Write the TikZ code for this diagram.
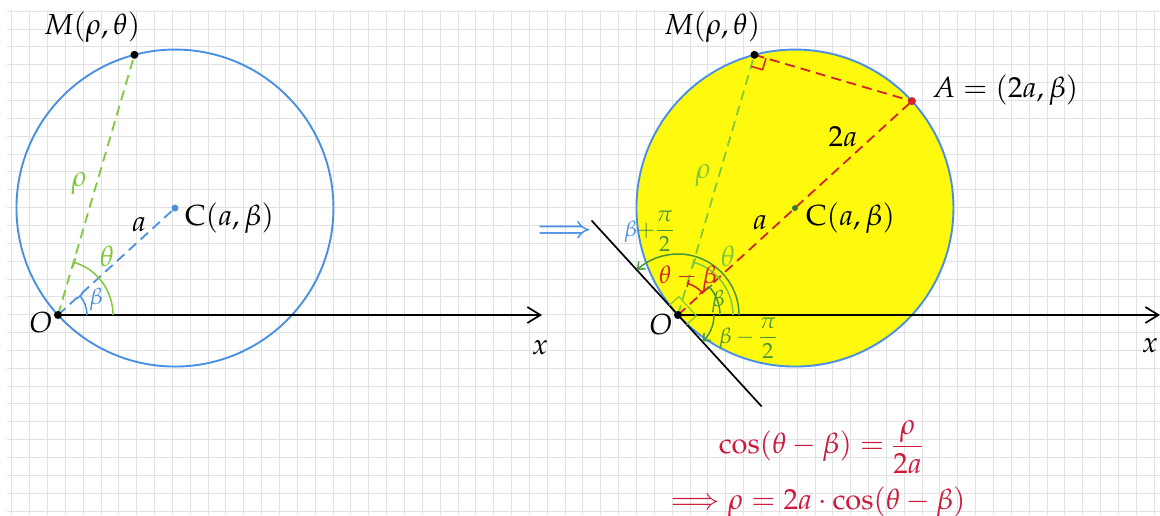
\documentclass[tikz,border=0pt]{standalone}
\usepackage{mathpazo}
\usetikzlibrary{arrows.meta,calc}
\definecolor{cblue}{RGB}{74,144,226}
\definecolor{clgreen}{RGB}{128,200,60}
\definecolor{cdgreen}{RGB}{70,150,55}
\definecolor{cred}{RGB}{210,35,45}
\definecolor{cform}{RGB}{205,25,60}
\definecolor{cgrid}{RGB}{226,226,226}
\definecolor{cyel}{RGB}{255,250,0}
\definecolor{cdot}{RGB}{60,120,60}
\tikzset{
  lbl/.style={font=\fontsize{29}{34}\selectfont, inner sep=0pt},
  slbl/.style={font=\fontsize{23}{28}\selectfont, inner sep=0pt},
  gridline/.style={draw=cgrid, line width=0.9pt},
  circ/.style={draw=cblue, line width=1.9pt},
  dashln/.style={dash pattern=on 10pt off 6pt, line width=1.8pt},
  axisln/.style={line width=1.9pt, -{Straight Barb[length=13pt,width=16pt,line width=1.7pt]}},
  dot/.style={circle, inner sep=0pt, minimum size=8pt, fill=black},
  arcln/.style={line width=1.5pt},
  rmark/.style={line width=1.2pt},
}
\begin{document}
\begin{tikzpicture}[x=1pt,y=1pt]
\useasboundingbox (0,0) rectangle (1160,-515);
% grid
\begin{scope}
\clip (7,-10) rectangle (1160,-515);
\foreach \i in {0,...,65} \draw[gridline] ({11.7+17.85*\i},-10) -- ({11.7+17.85*\i},-515);
\foreach \j in {0,...,28} \draw[gridline] (7,{-11.2-17.85*\j}) -- (1160,{-11.2-17.85*\j});
\end{scope}

% ---------------- left diagram ----------------
\coordinate (O1) at (58,-315);
\coordinate (C1) at ($(O1)+(42.44:158.5)$);
\coordinate (M1) at ($(O1)+(73.62:271.2)$);
\coordinate (X1) at (542,-315);
\draw[circ] (C1) circle[radius=158.5];
\draw[axisln] (O1) -- (X1);
\draw[dashln, draw=clgreen] (O1) -- (M1);
\draw[dashln, draw=cblue] (O1) -- (C1);
\draw[arcln, clgreen, -{Bar[width=9pt]}] ($(O1)+(55,0)$) arc[start angle=0, end angle=73.62, radius=55];
\draw[arcln, cblue, -{Bar[width=8pt]}] ($(O1)+(29,0)$) arc[start angle=0, end angle=42.44, radius=29];
\node[dot] (Md1) at (M1) {};
\node[dot, fill=cblue, minimum size=7pt] (Cd1) at (C1) {};
\node[dot] (Od1) at (O1) {};
\node[lbl] (lM1) at (92,-27) {$M(\rho,\theta)$};
\node[lbl, text=clgreen] (lr1) at (79,-183) {$\rho$};
\node[lbl] (la1) at (139,-225) {$a$};
\node[lbl, anchor=west] (lC1) at (185,-218) {$\mathrm{C}(a,\beta)$};
\node[lbl, text=clgreen] (lt1) at (107,-256) {$\theta$};
\node[slbl, text=cblue] (lb1) at (96,-299) {$\beta$};
\node[lbl] (lO1) at (41,-323) {$O$};
\node[lbl] (lx1) at (540,-348) {$x$};

% arrow between
\node[inner sep=0pt, text=cblue, font=\fontsize{28}{34}\selectfont\boldmath] (imp) at (565,-232) {$\Longrightarrow$};

% ---------------- right diagram ----------------
\coordinate (O2) at (678,-315);
\coordinate (C2) at ($(O2)+(42.44:158.5)$);
\coordinate (A2) at ($(O2)+(42.44:317)$);
\coordinate (M2) at ($(O2)+(73.62:271.2)$);
\coordinate (X2) at (1160,-315);
\coordinate (T1) at ($(O2)+(132.44:128)$);
\coordinate (T2) at ($(O2)+(-47.56:124)$);
\fill[cyel, fill opacity=0.95] (C2) circle[radius=158.5];
\draw[circ] (C2) circle[radius=158.5];
\draw[axisln] (O2) -- (X2);
\draw[line width=1.7pt] (T1) -- (T2);
\draw[dashln, draw=clgreen] (O2) -- (M2);
\draw[dashln, draw=cred] (O2) -- (A2);
\draw[dashln, draw=cred] (M2) -- (A2);
% right angle at M
\coordinate (Ma) at ($(M2)!12pt!(A2)$);
\coordinate (Mo) at ($(M2)!12pt!(O2)$);
\draw[rmark, cred, line width=1.5pt] (Ma) -- ($(Ma)+(Mo)-(M2)$) -- (Mo);
% right angles at O
\coordinate (Ot) at ($(O2)!13pt!(T1)$);
\coordinate (Oa) at ($(O2)!13pt!(A2)$);
\coordinate (Ob) at ($(O2)!13pt!(T2)$);
\draw[rmark, clgreen] (Ot) -- ($(Ot)+(Oa)-(O2)$) -- (Oa);
\draw[rmark, clgreen] (Oa) -- ($(Oa)+(Ob)-(O2)$) -- (Ob);
% arcs
\draw[arcln, clgreen, -{Bar[width=9pt]}] ($(O2)+(55,0)$) arc[start angle=0, end angle=73.62, radius=55];
\draw[arcln, cdgreen, -{Straight Barb[length=6pt,width=10pt]}] ($(O2)+(61,0)$) arc[start angle=0, end angle=132.44, radius=61];
\draw[arcln, cred, {Bar[width=7pt]}-{Bar[width=7pt]}] ($(O2)+(42.44:33)$) arc[start angle=42.44, end angle=73.62, radius=33];
\draw[arcln, cdgreen, -{Bar[width=7pt]}] ($(O2)+(42,0)$) arc[start angle=0, end angle=42.44, radius=42];
\draw[arcln, cdgreen, -{Straight Barb[length=6pt,width=10pt]}] ($(O2)+(36,0)$) arc[start angle=0, end angle=-47.56, radius=36];
% dots
\node[dot] (Md2) at (M2) {};
\node[dot, fill=cdot, minimum size=6pt] (Cd2) at (C2) {};
\node[dot, fill=cred, minimum size=8pt] (Ad2) at (A2) {};
\node[dot] (Od2) at (O2) {};
% labels
\node[lbl] (lM2) at (712,-27) {$M(\rho,\theta)$};
\node[lbl, anchor=west] (lA2) at (932,-90) {$A=(2a,\beta)$};
\node[lbl] (l2a) at (843,-137) {$2a$};
\node[lbl, text=clgreen] (lr2) at (703,-175) {$\rho$};
\node[lbl] (la2) at (760,-223) {$a$};
\node[lbl, anchor=west] (lC2) at (806,-218) {$\mathrm{C}(a,\beta)$};
\node[lbl, text=clgreen] (lt2) at (728,-256) {$\theta$};
\node[slbl, text=cred, font=\fontsize{25}{30}\selectfont] (ltb) at (688,-278) {$\theta-\beta$};
\node[slbl, text=cdgreen] (lb2) at (718,-301) {$\beta$};
\node[slbl, font=\fontsize{22}{26}\selectfont] (lbp) at (649,-231) {$\textcolor{cblue}{\beta}\textcolor{cdgreen}{+\displaystyle\frac{\pi}{2}}$};
\node[slbl, text=cdgreen, font=\fontsize{22}{26}\selectfont] (lbm) at (748,-338) {$\beta-\displaystyle\frac{\pi}{2}$};
\node[lbl] (lO2) at (661,-325) {$O$};
\node[lbl] (lx2) at (1150,-346) {$x$};
% formula
\node[lbl, text=cform] (f1) at (821,-447) {$\cos(\theta-\beta)=\displaystyle\frac{\rho}{2a}$};
\node[lbl, text=cform, anchor=base] (f2) at (818,-509) {$\Longrightarrow\rho=2a\cdot\cos(\theta-\beta)$};
\end{tikzpicture}
\end{document}
